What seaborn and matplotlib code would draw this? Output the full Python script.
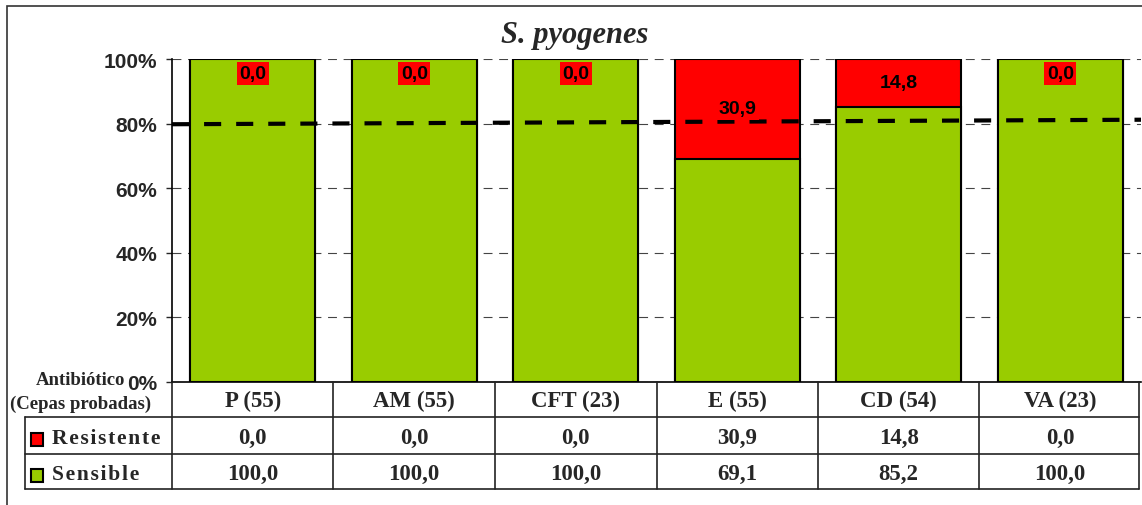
import numpy as np
import pandas as pd
import matplotlib
matplotlib.use('Agg')
import matplotlib.pyplot as plt
import seaborn as sns
from matplotlib.patches import Rectangle
from matplotlib.lines import Line2D

sns.set_style('white')
plt.rcParams['font.family'] = ['Liberation Sans', 'DejaVu Sans']

# data
antibioticos = ['P', 'AM', 'CFT', 'E', 'CD', 'VA']
cepas = [55, 55, 23, 55, 54, 23]
resistente = [0.0, 0.0, 0.0, 30.9, 14.8, 0.0]
sensible = [100.0, 100.0, 100.0, 69.1, 85.2, 100.0]
umbral = [79.8, 81.2]   # dashed reference line, left edge -> right edge
yticks = [0, 20, 40, 60, 80, 100]

verde = '#99CC00'
rojo = '#FF0000'

df = pd.DataFrame({'ab': [f'{a} ({n})' for a, n in zip(antibioticos, cepas)],
                   'res': resistente, 'sen': sensible})
df['total'] = df.res + df.sen

W, H = 1142, 506
fig = plt.figure(figsize=(W / 100, H / 100), dpi=100)
ax = fig.add_axes([172 / W, 1 - 383 / H, 969 / W, 323 / H])

# red full-height bars, then green "sensible" on top -> stacked look
sns.barplot(data=df, x='ab', y='total', color=rojo, saturation=1, width=0.775,
            edgecolor='black', linewidth=1.5, errorbar=None, ax=ax, zorder=3)
sns.barplot(data=df, x='ab', y='sen', color=verde, saturation=1, width=0.775,
            edgecolor='black', linewidth=1.5, errorbar=None, ax=ax, zorder=3)

ax.set_ylim(0, 100)
ax.set_xlim(-0.5, 5.5)
ax.set_xlabel('')
ax.set_ylabel('')
ax.yaxis.grid(True, linestyle=(0, (8, 6)), color='#444444', lw=0.8)
ax.set_axisbelow(True)

ax.plot([-0.5, 5.5], umbral, color='black', lw=3, dashes=(4.1, 3.6),
        zorder=5, clip_on=False)

for i, r in enumerate(resistente):
    y = 95.5 if r == 0 else sensible[i] + r / 2
    ax.text(i, y, f'{r:.1f}'.replace('.', ','), ha='center', va='center',
            fontsize=14, fontweight='bold', color='black',
            bbox=dict(fc=rojo, ec='none', pad=2), zorder=6)

ax.set_yticks(yticks)
ax.set_yticklabels([f'{v}%' for v in yticks], fontsize=15, fontweight='bold')
ax.tick_params(axis='y', left=True, length=4.3, width=1, pad=6.5)
ax.tick_params(axis='x', bottom=False, labelbottom=False)
for s in ['top', 'right']:
    ax.spines[s].set_visible(False)
for s in ['left', 'bottom']:
    ax.spines[s].set_color('black')
    ax.spines[s].set_linewidth(1.2)

# data table below the axes
def fx(p):
    return p / W

def fy(p):
    return 1 - p / H

pos = ax.get_position()
x0, cw = pos.x0, pos.width / len(antibioticos)
x_end = x0 + len(antibioticos) * cw - 2 / W
lc, lw = '#222222', 1.2
serif = ['Liberation Serif', 'DejaVu Serif']

for i in range(len(antibioticos) + 1):
    x = min(x0 + i * cw, x_end)
    fig.add_artist(Line2D([x, x], [fy(383), fy(490)], color=lc, lw=lw))
for yp in [418, 455, 490]:
    fig.add_artist(Line2D([fx(25), x_end], [fy(yp), fy(yp)], color=lc, lw=lw))
fig.add_artist(Line2D([fx(25), fx(25)], [fy(418), fy(490)], color=lc, lw=lw))

for i in range(len(antibioticos)):
    xc = x0 + (i + 0.5) * cw
    fig.text(xc, fy(401), df.ab[i], ha='center', va='center', fontsize=16.5,
             fontweight='bold', family=serif)
    fig.text(xc, fy(438), f'{resistente[i]:.1f}'.replace('.', ','), ha='center',
             va='center', fontsize=16.5, fontweight='bold', family=serif)
    fig.text(xc, fy(474), f'{sensible[i]:.1f}'.replace('.', ','), ha='center',
             va='center', fontsize=16.5, fontweight='bold', family=serif)

for yp, name, col in [(439, 'Resistente', rojo), (475, 'Sensible', verde)]:
    fig.add_artist(Rectangle((fx(31), fy(yp + 7.5)), 12 / W, 13 / H, fc=col,
                             ec='black', lw=1.5, transform=fig.transFigure))
    fig.text(fx(52), fy(yp), '\u200a'.join(name), ha='left', va='center',
             fontsize=15.5, fontweight='bold', family=serif)

fig.text(fx(125), fy(381), 'Antibiótico', ha='right', va='center', fontsize=13.5,
         fontweight='bold', family=serif)
fig.text(fx(81), fy(404), '(Cepas probadas)', ha='center', va='center',
         fontsize=13.5, fontweight='bold', family=serif)

fig.text(fx(575), fy(35), 'S. pyogenes', ha='center', va='center', fontsize=22,
         fontweight='bold', style='italic', family=serif)

# outer frame (cut off at right and bottom)
fig.add_artist(Rectangle((fx(7), -0.1), 1.2, fy(7) + 0.1, fill=False,
                         ec='#333333', lw=1.2, transform=fig.transFigure))

fig.savefig('out.png', dpi=100)
